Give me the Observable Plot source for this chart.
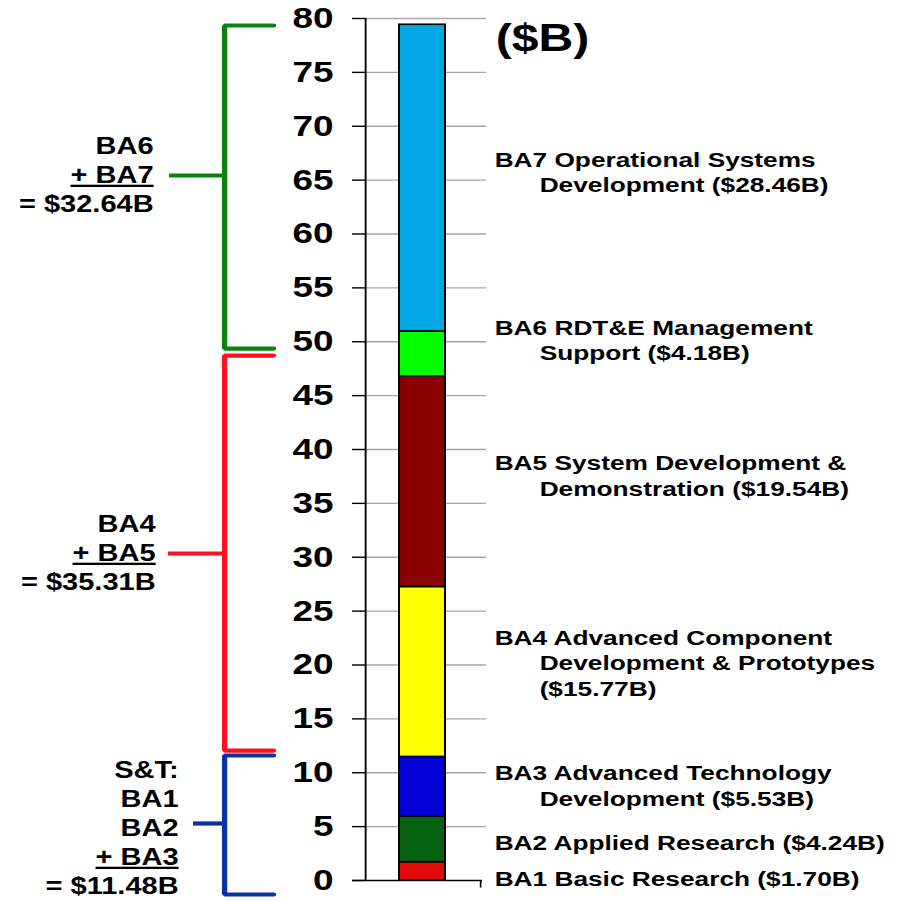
<!DOCTYPE html>
<html><head><meta charset="utf-8">
<script src="https://cdn.jsdelivr.net/npm/d3@7"></script>
<script src="https://cdn.jsdelivr.net/npm/@observablehq/plot@0.6"></script>
<style>body{margin:0;background:#fff;}</style>
</head><body><div id="chart"></div>
<script>
// ---- data ----
const categories = ["BA1","BA2","BA3","BA4","BA5","BA6","BA7"];
const values = [1.70, 4.24, 5.53, 15.77, 19.54, 4.18, 28.46];
const colors = ["#e00c0c","#03620f","#0000d6","#ffff00","#8a0000","#00ff00","#00a9e6"];
const labelLines = [
  ["BA1 Basic Research ($1.70B)"],
  ["BA2 Applied Research ($4.24B)"],
  ["BA3 Advanced Technology","Development ($5.53B)"],
  ["BA4 Advanced Component","Development & Prototypes","($15.77B)"],
  ["BA5 System Development &","Demonstration ($19.54B)"],
  ["BA6 RDT&E Management","Support ($4.18B)"],
  ["BA7 Operational Systems","Development ($28.46B)"]
];
const yTicks = [0,5,10,15,20,25,30,35,40,45,50,55,60,65,70,75,80];
const unitLabel = "($B)";
const groupLines = [
  ["BA6","+ BA7","= $32.64B"],
  ["BA4","+ BA5","= $35.31B"],
  ["S&T:","BA1","BA2","+ BA3","= $11.48B"]
];
const groupTop = [79.35, 48.72, 11.60];
const groupBottom = [49.37, 12.06, -1.30];
const groupStem = [65.43, 30.35, 5.29];
const groupColors = ["#0c820c","#ff1020","#0a32a0"];

// ---- layout (reference pixel positions) ----
const W = 720, H = 901, OUTW = 901;
const mTop = 18, mBottom = 21;
const pxPerUnit = (H - mTop - mBottom) / 80;
const barX1 = 399, barX2 = 445;
const axisX = 365, tickX1 = 352, gridX2 = 486, baseX2 = 482, baseTickX = 480;
const tickLabelX = 333;
const labelX = 494;
const labelIndent = 539;
const labelOffset = [8, 4, -13, -34, -18, -26, -18];
const lineStep = 25.5;
const bracketX = 224, armX2 = 273;
const stemX1 = [169, 168, 193];
const groupTextX = [153, 155, 178];
const groupMid = [1, 1, 2];
const groupExtra = [0, 0, 5];
const groupStep = 29;

// ---- derived ----
const cum = d3.cumsum(values);
const segs = categories.map((c, i) => ({name: c, value: values[i], y1: cum[i] - values[i], y2: cum[i]}));
const labelData = labelLines.flatMap((lines, k) => lines.map((t, i) => ({
  text: t,
  x: i === 0 ? labelX : labelIndent,
  y: (segs[k].y1 + segs[k].y2) / 2 - (labelOffset[k] + i * lineStep) / pxPerUnit
})));
const bracketPts = groupTop.flatMap((top, g) => [
  {g, x: armX2, y: top}, {g, x: bracketX, y: top},
  {g, x: bracketX, y: groupBottom[g]}, {g, x: armX2, y: groupBottom[g]}
]);
const stems = groupStem.map((y, g) => ({g, y}));
const groupText = groupLines.flatMap((lines, g) => lines.map((t, i) => ({
  text: t, x: groupTextX[g],
  y: groupStem[g] - ((i - groupMid[g]) * groupStep + groupExtra[g]) / pxPerUnit
})));

const font = "Liberation Sans, Arial, Helvetica, sans-serif";

const svg = Plot.plot({
  width: W, height: H,
  marginLeft: 0, marginRight: 0, marginTop: mTop, marginBottom: mBottom,
  style: {fontFamily: font, background: "#fff"},
  x: {domain: [0, OUTW], range: [0, W], axis: null},
  y: {domain: [0, 80], axis: null},
  color: {domain: categories, range: colors},
  marks: [
    Plot.ruleY(yTicks.filter(d => d > 0), {x1: axisX, x2: gridX2, y: d => d, stroke: "#a6a6a6", strokeWidth: 1.3}),
    Plot.rect(segs, {x1: barX1, x2: barX2, y1: "y1", y2: "y2", fill: "name", stroke: "#000", strokeWidth: 1.6}),
    Plot.ruleX([axisX], {y1: 0, y2: 80, stroke: "#000", strokeWidth: 1.5}),
    Plot.ruleY(yTicks, {x1: tickX1, x2: axisX, y: d => d, stroke: "#000", strokeWidth: 1.4}),
    Plot.ruleY([0], {x1: tickX1, x2: baseX2, stroke: "#000", strokeWidth: 1.5}),
    Plot.ruleX([baseTickX], {y1: 0, y2: -0.7, stroke: "#000", strokeWidth: 1.3}),
    Plot.text(yTicks, {x: tickLabelX, y: d => d, text: d => String(d), textAnchor: "end", fontSize: 29.5, fontWeight: "bold", fill: "#000"}),
    Plot.text([unitLabel], {x: 495, y: 80, dy: 20, text: d => d, textAnchor: "start", fontSize: 38.5, fontWeight: "bold", fill: "#000"}),
    Plot.text(labelData, {x: "x", y: "y", text: "text", textAnchor: "start", fontSize: 21, fontWeight: "bold", fill: "#000"}),
    Plot.line(bracketPts, {x: "x", y: "y", z: "g", stroke: d => groupColors[d.g], strokeWidth: 4.2, strokeLinecap: "round", strokeLinejoin: "miter"}),
    Plot.ruleY(stems, {x1: d => stemX1[d.g], x2: bracketX, y: "y", stroke: d => groupColors[d.g], strokeWidth: 4.2}),
    Plot.text(groupText, {x: "x", y: "y", text: "text", textAnchor: "end", fontSize: 23.2, fontWeight: "bold", fill: "#000"})
  ]
});

svg.setAttribute("width", OUTW);
svg.setAttribute("height", H);
svg.setAttribute("viewBox", `0 0 ${W} ${H}`);
svg.setAttribute("preserveAspectRatio", "none");
svg.style.width = OUTW + "px";
svg.style.height = H + "px";
svg.style.maxWidth = "none";
d3.select(svg).selectAll("text").filter(function() { return this.textContent.startsWith("+ "); })
  .style("text-decoration", "underline")
  .style("text-decoration-thickness", "2.5px")
  .style("text-underline-offset", "2px");
document.getElementById("chart").appendChild(svg);
</script>
</body></html>
